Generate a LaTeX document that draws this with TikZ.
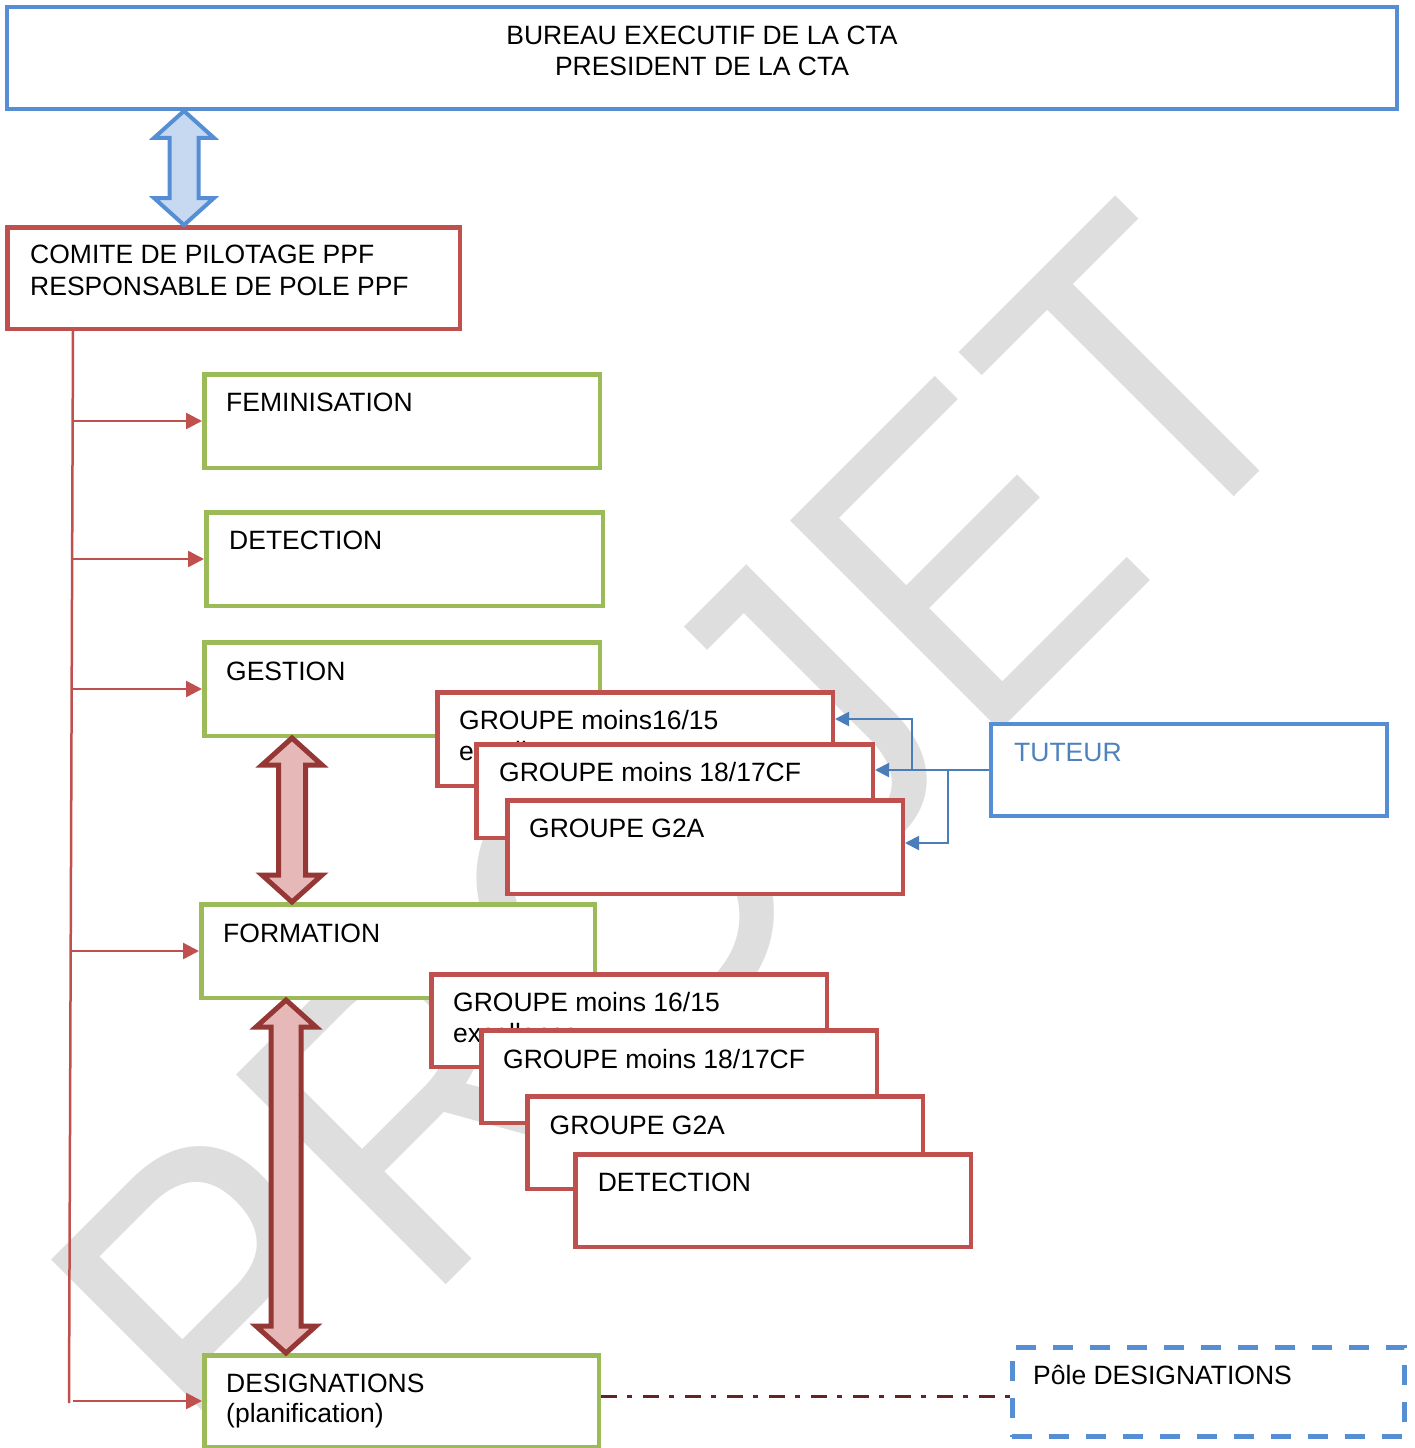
\documentclass[tikz,border=0pt]{standalone}
\usepackage{fontspec}
\setmainfont{Liberation Sans}
\usetikzlibrary{calc,arrows.meta}
\definecolor{bbord}{RGB}{85,142,213}
\definecolor{rbord}{RGB}{192,80,77}
\definecolor{gbord}{RGB}{155,187,89}
\definecolor{bconn}{RGB}{74,126,187}
\definecolor{darr}{RGB}{149,55,53}
\definecolor{parr}{RGB}{230,185,184}
\definecolor{barrfill}{RGB}{198,217,241}
\definecolor{ddash}{RGB}{99,37,35}
\definecolor{ttext}{RGB}{79,129,189}
\definecolor{wmgray}{RGB}{222,222,222}
\tikzset{
 boxbase/.style={rectangle, inner sep=0pt, fill=white, line width=4.5pt},
 gbox/.style={boxbase, draw=gbord},
 rbox/.style={boxbase, draw=rbord},
 bbox/.style={boxbase, draw=bbord, line width=4.4pt},
 pbox/.style={boxbase, draw=bbord, line width=5pt, dash pattern=on 20pt off 17pt},
 lbl/.style={inner sep=0pt, font=\fontsize{26.5}{31}\selectfont, anchor=base west},
 redarrow/.style={draw=rbord, line width=2.5pt, -{Triangle[length=16pt,width=16pt]}},
 trunkline/.style={draw=rbord, line width=2.5pt},
 blueconn/.style={draw=bconn, line width=2pt},
 bluetip/.style={blueconn, -{Triangle[length=14pt,width=14pt]}},
 pinkdbl/.style={draw=darr, fill=parr, line width=5pt},
 bluedbl/.style={draw=bbord, fill=barrfill, line width=4pt},
 dashdot/.style={draw=ddash, line width=3.5pt, dash pattern=on 16pt off 10pt on 5pt off 11pt},
 wm/.style={inner sep=0pt, text=wmgray, font=\fontsize{392}{392}\selectfont, rotate=45, anchor=base west}
}
% box from outer corners (x1,y1)-(x2,y2)
\newcommand\bx[6]{\node[#1, minimum width={#4-#2-4.5}, minimum height={#5-#3-4.5}] (#6) at ({(#2+#4)/2},{(#3+#5)/2}) {};}
% double arrow: style, top tip, bottom tip, half shaft, half head, head length
\newcommand\dblarrow[6]{\draw[#1] (#2) -- ($(#2)+(#5,#6)$) -- ($(#2)+(#4,#6)$) -- ($(#3)+(#4,-#6)$) -- ($(#3)+(#5,-#6)$) -- (#3) -- ($(#3)+(-#5,-#6)$) -- ($(#3)+(-#4,-#6)$) -- ($(#2)+(-#4,#6)$) -- ($(#2)+(-#5,#6)$) -- cycle;}
\begin{document}
\begin{tikzpicture}[x=1pt,y=-1pt]
\useasboundingbox (0,0) rectangle (1414,1448);
% watermark
\node[wm] (wmark) at (238,1493) {\scalebox{1}[1.1]{PROJET}};

% top boxes
\bx{bbox}{5}{5}{1399}{111}{bureau}
\node[lbl, anchor=base] (bureauT1) at (702,44.3) {BUREAU EXECUTIF DE LA CTA};
\node[lbl, anchor=base] (bureauT2) at (702,75) {PRESIDENT DE LA CTA};
\bx{rbox}{5}{225}{462}{331}{comite}
\node[lbl] (comiteT1) at (30,263) {COMITE DE PILOTAGE PPF};
\node[lbl] (comiteT2) at (30,295) {RESPONSABLE DE POLE PPF};

% green boxes
\bx{gbox}{202}{372}{602}{470}{fem}
\node[lbl] (femT) at (226,411) {FEMINISATION};
\bx{gbox}{204}{510}{605}{608}{det}
\node[lbl] (detT) at (229,549) {DETECTION};
\bx{gbox}{202}{640}{602}{738}{gest}
\node[lbl] (gestT) at (226,680) {GESTION};
\bx{gbox}{199}{902}{597}{1000}{form}
\node[lbl] (formT) at (223,942) {FORMATION};
\bx{gbox}{202}{1353}{601}{1449}{desig}
\node[lbl] (desigT1) at (226,1392) {DESIGNATIONS};
\node[lbl] (desigT2) at (226,1422) {(planification)};

% trunk and branches
\coordinate (trunkTop) at (73,0 |- comite.south);
\coordinate (trunkBot) at (69,1403);
\draw[trunkline] (trunkTop) -- (trunkBot);
\draw[redarrow] (73,0 |- fem.west) -- (fem.west);
\draw[redarrow] (73,0 |- det.west) -- (det.west);
\draw[redarrow] (73,0 |- gest.west) -- (gest.west);
\draw[redarrow] (72,0 |- form.west) -- (form.west);
\draw[redarrow] (73,0 |- desig.west) -- (desig.west);

% GESTION groups
\bx{rbox}{435}{690}{835}{788}{A1}
\node[lbl] (A1T1) at (459,729) {GROUPE moins16/15};
\node[lbl] (A1T2) at (459,760) {excellence};
\bx{rbox}{474}{742}{875}{840}{A2}
\node[lbl] (A2T) at (499,781.7) {GROUPE moins 18/17CF};
\bx{rbox}{505}{798}{905}{896}{A3}
\node[lbl] (A3T) at (529,837.7) {GROUPE G2A};

% FORMATION groups
\bx{rbox}{429}{972}{829}{1069}{B1}
\node[lbl] (B1T1) at (453,1011.7) {GROUPE moins 16/15};
\node[lbl] (B1T2) at (453,1042.5) {excellence};
\bx{rbox}{479}{1028}{879}{1125}{B2}
\node[lbl] (B2T) at (503,1068) {GROUPE moins 18/17CF};
\bx{rbox}{525}{1094}{925}{1191}{B3}
\node[lbl] (B3T) at (549.5,1134) {GROUPE G2A};
\bx{rbox}{573}{1152}{973}{1249}{B4}
\node[lbl] (B4T) at (597.6,1191.7) {DETECTION};

% tuteur
\bx{bbox}{989}{722}{1389}{818}{tuteur}
\node[lbl, text=ttext] (tuteurT) at (1014,761) {TUTEUR};
\draw[bluetip] (tuteur.west) -- (A2.east |- tuteur.west);
\coordinate (j1) at (912,0 |- tuteur.west);
\draw[bluetip] (j1) |- ([yshift=20pt]A1.east);
\coordinate (j2) at (948,0 |- tuteur.west);
\draw[bluetip] (j2) |- ([yshift=4pt]A3.east);

% double arrows
\coordinate (ua) at (184,0 |- bureau.south);
\coordinate (ub) at (184,0 |- comite.north);
\dblarrow{bluedbl}{ua}{ub}{14.5}{30}{27}
\coordinate (pa) at (292,0 |- gest.south);
\coordinate (pb) at (292,0 |- form.north);
\dblarrow{pinkdbl}{pa}{pb}{13.5}{30}{27}
\coordinate (qa) at (286,0 |- form.south);
\coordinate (qb) at (286,0 |- desig.north);
\dblarrow{pinkdbl}{qa}{qb}{15}{30}{27}

% pole designations
\bx{pbox}{1010}{1345}{1407}{1439}{pole}
\node[lbl] (poleT) at (1033,1384) {Pôle DESIGNATIONS};
\coordinate (dd1) at ([yshift=4.5pt]desig.east);
\draw[dashdot] (dd1) -- (pole.west |- dd1);
\end{tikzpicture}
\end{document}
